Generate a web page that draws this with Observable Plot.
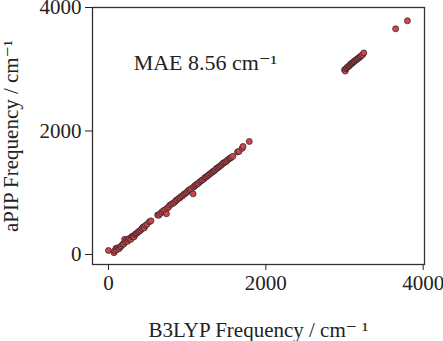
<!DOCTYPE html>
<html>
<head>
<meta charset="utf-8">
<script src="https://cdn.jsdelivr.net/npm/d3@7"></script>
<script src="https://cdn.jsdelivr.net/npm/@observablehq/plot@0.6"></script>
<style>
  html, body { margin: 0; padding: 0; background: white; }
  #chart svg, #chart svg text { font-family: "Liberation Serif", "DejaVu Serif", serif !important; }
</style>
</head>
<body>
<div id="chart"></div>
<script>
// B3LYP frequencies (x) and aPIP frequencies (y), cm^-1
const b3lyp = [
  0, 70, 80, 95, 105, 120, 135, 150, 165, 180, 195, 205, 215, 230, 245, 255, 270, 285, 300, 310,
  325, 340, 350, 365, 380, 395, 410, 425, 440, 455, 470, 490, 520, 540, 625, 640, 660, 680, 700, 715,
  737, 745, 765, 780, 800, 820, 840, 855, 870, 890, 905, 920, 940, 955, 970, 990, 1005, 1020, 1035, 1050,
  1076, 1080, 1095, 1110, 1125, 1140, 1160, 1175, 1190, 1210, 1225, 1240, 1255, 1270, 1285, 1300, 1315, 1330, 1345, 1360,
  1375, 1390, 1405, 1420, 1435, 1450, 1465, 1480, 1495, 1510, 1530, 1545, 1560, 1580, 1640, 1660, 1700, 1710, 1790,
  3000, 3010, 3020, 3030, 3045, 3055, 3065, 3075, 3085, 3095, 3105, 3115, 3125, 3140, 3150, 3160, 3175, 3190, 3200, 3215,
  3230, 3245, 3650, 3800
];
const apip = [
  65, 30, 60, 100, 75, 110, 95, 120, 140, 165, 170, 245, 205, 235, 215, 250, 265, 245, 290, 300,
  285, 325, 335, 350, 370, 380, 395, 420, 445, 430, 470, 490, 530, 545, 640, 635, 665, 690, 710, 720,
  659, 750, 770, 800, 815, 830, 845, 870, 885, 905, 915, 935, 950, 970, 985, 1000, 1020, 1040, 1050, 1065,
  983, 1090, 1110, 1125, 1140, 1150, 1175, 1190, 1205, 1220, 1245, 1255, 1270, 1285, 1300, 1315, 1330, 1345, 1355, 1375,
  1395, 1405, 1420, 1435, 1450, 1470, 1485, 1495, 1505, 1525, 1545, 1560, 1570, 1590, 1660, 1670, 1720, 1750, 1830,
  2990, 2970, 3010, 3025, 3040, 3050, 3060, 3080, 3085, 3100, 3105, 3120, 3130, 3145, 3150, 3165, 3180, 3190, 3205, 3220,
  3235, 3265, 3655, 3785
];
const xTicks = [0, 2000, 4000];
const yTicks = [0, 2000, 4000];
const xLabel = "B3LYP Frequency / cm\u207B \u00B9";
const yLabel = "aPIP Frequency / cm\u207B\u00B9";
const annotation = ["MAE 8.56 cm\u207B\u00B9"];
const annotationPos = {x: 320, y: 3110};

const points = b3lyp.map((x, i) => ({x, y: apip[i]}));

const chart = Plot.plot({
  width: 443,
  height: 341,
  marginLeft: 92,
  marginRight: 19,
  marginTop: 7,
  marginBottom: 77,
  style: {fontFamily: "'Liberation Serif', 'DejaVu Serif', serif", fontSize: "21px", color: "#222", background: "white", overflow: "visible"},
  x: {domain: [-203, 4017], ticks: xTicks, tickFormat: d => String(d), tickSize: 6, tickPadding: 5,
      label: xLabel, labelAnchor: "center", labelOffset: 72, labelArrow: "none"},
  y: {domain: [-162, 4000], ticks: yTicks, tickFormat: d => String(d), tickSize: 7, tickPadding: 4,
      label: yLabel, labelAnchor: "center", labelOffset: 89, labelArrow: "none"},
  marks: [
    Plot.frame({stroke: "#333", strokeWidth: 1.3}),
    Plot.dot(points, {x: "x", y: "y", r: 3, fill: "#d1454d", stroke: "#222", strokeWidth: 0.7}),
    Plot.text(annotation, {x: () => annotationPos.x, y: () => annotationPos.y, text: d => d, textAnchor: "start", fontSize: 22, fill: "#222"})
  ]
});
document.getElementById("chart").appendChild(chart);
</script>
</body>
</html>
